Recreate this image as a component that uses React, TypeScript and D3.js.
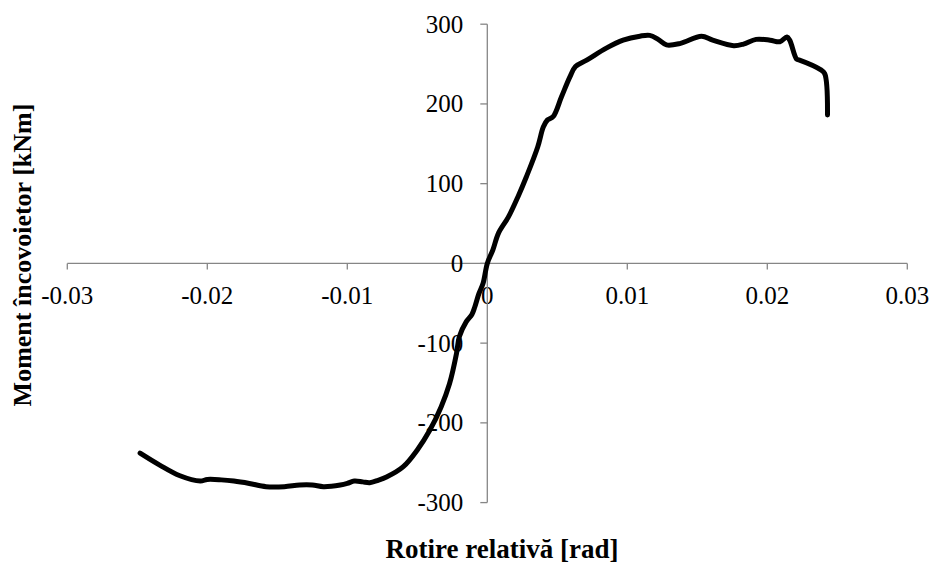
import React from "react";
import * as d3 from "d3";

const rotation: number[] = [
  -0.0248, -0.0234, -0.022, -0.0205, -0.02, -0.019, -0.0181, -0.017, -0.0158, -0.0145,
  -0.0134, -0.0125, -0.0117, -0.0105, -0.01, -0.0095, -0.0089, -0.0084, -0.0078, -0.0072,
  -0.006, -0.005, -0.0041, -0.0033, -0.0027, -0.0022, -0.002, -0.0015, -0.0011, -0.0009,
  -0.0006, -0.0003, 0.0, 0.0004, 0.0008, 0.0015, 0.0022, 0.0028, 0.0036, 0.004,
  0.0043, 0.0047, 0.0053, 0.0059, 0.0063, 0.0071, 0.0085, 0.0097, 0.0109, 0.0116,
  0.0122, 0.0128, 0.0138, 0.0153, 0.0161, 0.0176, 0.0183, 0.0192, 0.0202, 0.0209,
  0.0214, 0.0216, 0.0221, 0.0223, 0.0238, 0.0241, 0.0243,
];
const moment: number[] = [
  -238, -253, -266, -273, -271, -271.5, -273, -276, -280, -280,
  -278, -278, -280, -278, -276, -273, -274, -275, -272, -268,
  -255, -234, -209, -180, -151, -113, -92, -73, -64, -55,
  -38, -25, 0, 17, 38, 58, 84, 109, 146, 171,
  180, 184, 209, 234, 247, 255, 270, 280, 285, 286,
  281, 274, 276, 285, 280, 273, 275, 281, 280, 278,
  284, 280, 256, 255, 243, 238, 186,
];
const xTicks: number[] = [-0.03, -0.02, -0.01, 0, 0.01, 0.02, 0.03];
const yTicks: number[] = [-300, -200, -100, 0, 100, 200, 300];
const xTitle = "Rotire relativă [rad]";
const yTitle = "Moment încovoietor [kNm]";

const W = 931;
const H = 563;
const FONT = "Liberation Serif";
const AXIS = "#868686";

export default function App() {
  const x = d3.scaleLinear().domain([-0.03, 0.03]).range([67.3, 907.3]);
  const y = d3.scaleLinear().domain([-300, 300]).range([502.6, 24.2]);
  const pts: [number, number][] = rotation.map((r, i) => [r, moment[i]]);
  const line = d3
    .line<[number, number]>()
    .x((d) => x(d[0]))
    .y((d) => y(d[1]))
    .curve(d3.curveCatmullRom.alpha(0.5));
  const x0 = x(0);
  const y0 = y(0);
  const fmtX = (v: number) => (v === 0 ? "0" : String(v));
  return (
    <svg
      width={W}
      height={H}
      style={{ position: "absolute", left: 0, top: 0, display: "block", background: "#fff" }}
    >
      <rect width={W} height={H} fill="#fff" />
      {/* x axis */}
      <line x1={x(-0.03)} x2={x(0.03)} y1={y0} y2={y0} stroke={AXIS} strokeWidth={1.3} />
      {xTicks.map((t) => (
        <g key={"xt" + t}>
          <line x1={x(t)} x2={x(t)} y1={y0} y2={y0 + 6} stroke={AXIS} strokeWidth={1.3} />
          <text
            x={x(t)}
            y={y0 + 41}
            textAnchor="middle"
            fontFamily={FONT}
            fontSize={25}
            fill="#000"
          >
            {fmtX(t)}
          </text>
        </g>
      ))}
      {/* y axis */}
      <line x1={x0} x2={x0} y1={y(-300)} y2={y(300)} stroke={AXIS} strokeWidth={1.3} />
      {yTicks.map((t) => (
        <g key={"yt" + t}>
          <line x1={x0 - 7} x2={x0} y1={y(t)} y2={y(t)} stroke={AXIS} strokeWidth={1.3} />
          <text
            x={x0 - 24}
            y={y(t) + 8.5}
            textAnchor="end"
            fontFamily={FONT}
            fontSize={25}
            fill="#000"
          >
            {t}
          </text>
        </g>
      ))}
      {/* curve */}
      <path
        d={line(pts) || ""}
        fill="none"
        stroke="#000"
        strokeWidth={5}
        strokeLinejoin="round"
        strokeLinecap="round"
      />
      {/* titles */}
      <text
        x={502}
        y={558}
        textAnchor="middle"
        fontFamily={FONT}
        fontSize={27}
        fontWeight="bold"
        fill="#000"
      >
        {xTitle}
      </text>
      <text
        transform={`translate(31,255) rotate(-90)`}
        textAnchor="middle"
        fontFamily={FONT}
        fontSize={26}
        fontWeight="bold"
        fill="#000"
      >
        {yTitle}
      </text>
    </svg>
  );
}
